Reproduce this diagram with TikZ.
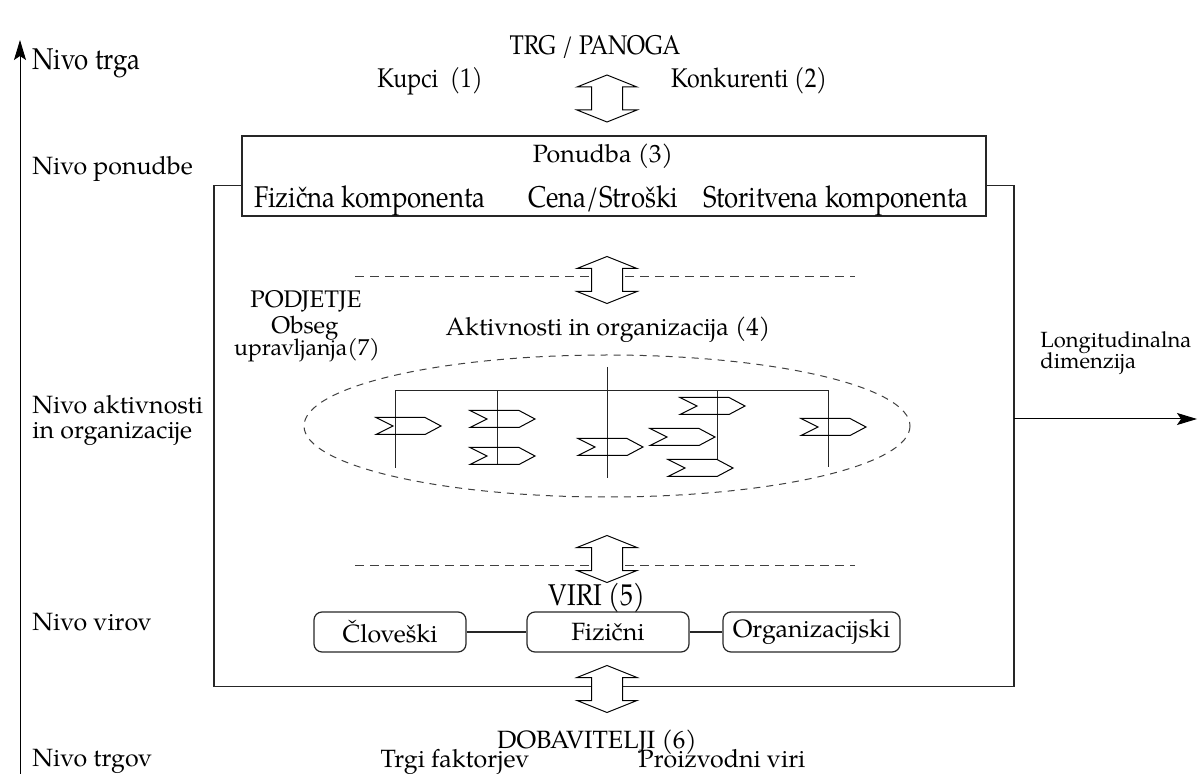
\documentclass[tikz,border=0pt]{standalone}
\usepackage{fontspec}
\setmainfont{TeX Gyre Pagella}
\newfontfamily\narrowfont[FakeStretch=0.86]{TeX Gyre Pagella}
\usetikzlibrary{arrows.meta}
\tikzset{
  dblarrow/.pic={
    \filldraw[fill=white, line width=0.5pt]
      (0,-23.5) -- (30,-11.5) -- (15.5,-11.5) -- (15.5,11.5) -- (30,11.5) -- (0,23.5)
      -- (-30,11.5) -- (-15.5,11.5) -- (-15.5,-11.5) -- (-30,-11.5) -- cycle;
  },
  chevron/.pic={
    \draw[line width=0.5pt]
      (0,-8.5) -- (49,-8.5) -- (65,0) -- (49,8.5) -- (0,8.5) -- (17,0) -- cycle;
  }
}
\begin{document}
\begin{tikzpicture}[x=0.5pt, y=-0.5pt,
  txt/.style={inner sep=0pt, anchor=base, font=\fontsize{12.5}{13}\selectfont},
  lvl/.style={txt, anchor=base west},
  toptxt/.style={inner sep=0pt, anchor=base, font=\narrowfont\fontsize{13.5}{14}\selectfont},
  comptxt/.style={inner sep=0pt, anchor=base, font=\narrowfont\fontsize{15}{16}\selectfont},
  frame/.style={draw=black!85, line width=0.6pt},
  resbox/.style={frame, rounded corners=4pt, minimum height=20pt, inner sep=0pt,
    font=\fontsize{12.5}{13}\selectfont},
  sepline/.style={draw=black!75, line width=0.5pt, dash pattern=on 4.5pt off 3pt},
  orgline/.style={draw=black!85, line width=0.5pt},
  axis/.style={draw=black, line width=0.5pt, -{Stealth[length=10pt, width=6pt, inset=2pt]}}
]
\clip (0,0) rectangle (1198,774);

% level axis
\coordinate (axBot) at (20,774);
\coordinate (axTop) at (20,40);
\draw[axis] (axBot) -- (axTop);

% level labels
\node[lvl, font=\narrowfont\fontsize{15}{16}\selectfont] (lvTrg) at (32,70) {Nivo trga};
\node[lvl] (lvPon) at (32,175) {Nivo ponudbe};
\node[lvl] (lvAkt) at (32,414) {Nivo aktivnosti};
\node[lvl] (lvAktB) at (32,439) {in organizacije};
\node[lvl] (lvVir) at (32,630) {Nivo virov};
\node[lvl] (lvTrgov) at (32,766) {Nivo trgov};

% market
\node[toptxt] (trg) at (595,55) {TRG / PANOGA};
\node[toptxt] (kupci) at (430,88) {Kupci~~(1)};
\node[toptxt] (konk) at (749,88) {Konkurenti (2)};
\pic at (607,98.5) {dblarrow};

% company frame and offer box
\node[frame, minimum width=400pt, minimum height=250.5pt, inner sep=0pt] (firm) at (614,436) {};
\node[frame, fill=white, minimum width=372pt, minimum height=40pt, inner sep=0pt] (offer) at (614,176) {};
\node[txt] (ponudba) at (603,163) {Ponudba (3)};
\node[comptxt] (fiz) at (370,208) {Fizična komponenta};
\node[comptxt] (cena) at (603,208) {Cena/Stroški};
\node[comptxt] (stor) at (836,208) {Storitvena komponenta};

% upper separator
\coordinate (sepAa) at (355,277);
\coordinate (sepAb) at (855,277);
\draw[sepline] (sepAa) -- (sepAb);
\pic at (607,280) {dblarrow};

\node[txt, font=\fontsize{12}{13}\selectfont] (podj) at (306,308) {PODJETJE};
\node[txt, font=\fontsize{12}{13}\selectfont] (obseg) at (305,334) {Obseg};
\node[txt, font=\fontsize{11.5}{13}\selectfont] (uprav) at (307,356) {upravljanja(7)};
\node[txt] (aktiv) at (608,336) {Aktivnosti in organizacija (4)};

% span of control
\draw[draw=black!75, line width=0.5pt, dash pattern=on 3.5pt off 3pt] (607,426) ellipse [x radius=303, y radius=71];

% organisation chart
\draw[orgline] (395,468) -- (395,391) -- (828,391) -- (828,467);
\draw[orgline] (497,391) -- (497,464);
\draw[orgline] (607,367) -- (607,478);
\draw[orgline] (717,391) -- (717,460);
\pic at (376,426) {chevron};
\pic at (470,419) {chevron};
\pic at (470,456) {chevron};
\pic at (578,447) {chevron};
\pic at (680,406) {chevron};
\pic at (650,437) {chevron};
\pic at (668,468) {chevron};
\pic at (801,427) {chevron};

% longitudinal dimension
\node[lvl, font=\fontsize{11}{12}\selectfont] (longA) at (1040,348) {Longitudinalna};
\node[lvl, font=\fontsize{11}{12}\selectfont] (longB) at (1040,369) {dimenzija};
\coordinate (longStart) at (1014,419);
\coordinate (longEnd) at (1197,419);
\draw[axis] (longStart) -- (longEnd);

% lower separator
\coordinate (sepBa) at (355,565);
\coordinate (sepBb) at (855,565);
\draw[sepline] (sepBa) -- (sepBb);
\pic at (607,559) {dblarrow};

% resources
\node[comptxt] (viri) at (597,605) {VIRI (5)};
\node[resbox, minimum width=76pt] (clov) at (390,632) {Človeški};
\node[resbox, minimum width=81pt] (fizr) at (608,632) {Fizični};
\node[resbox, minimum width=88.5pt] (orgr) at (811.5,632) {Organizacijski};
\draw[frame] (clov) -- (fizr);
\draw[frame] (fizr) -- (orgr);

% suppliers
\pic at (607,689) {dblarrow};
\node[txt] (dob) at (597,748) {DOBAVITELJI (6)};
\node[txt] (trgi) at (455,767) {Trgi faktorjev};
\node[txt] (proiz) at (722,767) {Proizvodni viri};
\end{tikzpicture}
\end{document}
